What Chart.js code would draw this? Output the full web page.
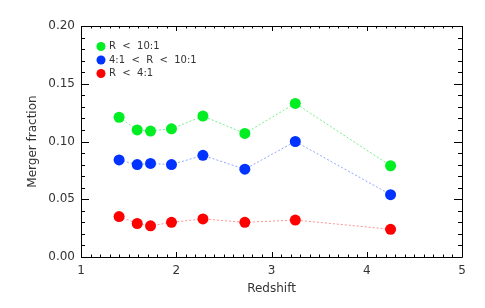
<!DOCTYPE html>
<html>
<head>
<meta charset="utf-8">
<script src="https://cdn.jsdelivr.net/npm/chart.js@4"></script>
<style>
  html, body { margin: 0; padding: 0; background: #fff; }
  #wrap { width: 485px; height: 308px; }
</style>
</head>
<body>
<div id="wrap"><canvas id="chart" width="485" height="308"></canvas></div>
<script>
// redshift bins
const redshift = [1.40, 1.59, 1.73, 1.95, 2.28, 2.72, 3.25, 4.25];
// merger fraction per mass ratio range
const majorMinor = [0.121, 0.110, 0.109, 0.111, 0.122, 0.107, 0.133, 0.079];
const minorOnly = [0.084, 0.080, 0.081, 0.080, 0.088, 0.076, 0.100, 0.054];
const majorOnly = [0.035, 0.029, 0.027, 0.030, 0.033, 0.030, 0.032, 0.024];
const seriesLabels = ['R  <  10:1', '4:1  <  R  <  10:1', 'R  <  4:1'];
const xTicks = [1, 2, 3, 4, 5];
const yTicks = [0, 0.05, 0.10, 0.15, 0.20];

const FONT = 'DejaVu Sans';
const TEXT = '#333';

function toPoints(values) {
    return values.map((v, i) => ({ x: redshift[i], y: v }));
}

// frame + inward ticks on all four sides, IDL style
const frameTicks = {
    id: 'frameTicks',
    afterDatasetsDraw(chart) {
        const ctx = chart.ctx;
        const a = chart.chartArea;
        const xs = chart.scales.x;
        const ys = chart.scales.y;
        ctx.save();
        ctx.strokeStyle = '#000';
        ctx.lineWidth = 1;
        ctx.beginPath();
        ctx.rect(Math.round(a.left) + 0.5, Math.round(a.top) + 0.5,
            Math.round(a.right - a.left), Math.round(a.bottom - a.top));
        ctx.stroke();

        ctx.beginPath();
        // x ticks: major every 1, minor every 0.1
        for (let i = 0; i <= 40; i++) {
            const v = xs.min + i * 0.1;
            const px = Math.round(xs.getPixelForValue(v)) + 0.5;
            const len = (i % 10 === 0) ? 5 : 2.5;
            ctx.moveTo(px, a.bottom);
            ctx.lineTo(px, a.bottom - len);
            ctx.moveTo(px, a.top);
            ctx.lineTo(px, a.top + len);
        }
        // y ticks: major every 0.05, minor every 0.01
        for (let i = 0; i <= 20; i++) {
            const v = i * 0.01;
            const py = Math.round(ys.getPixelForValue(v)) + 0.5;
            const len = (i % 5 === 0) ? 8 : 4;
            ctx.moveTo(a.left, py);
            ctx.lineTo(a.left + len, py);
            ctx.moveTo(a.right, py);
            ctx.lineTo(a.right - len, py);
        }
        ctx.stroke();
        ctx.restore();
    }
};

// legend drawn inside the plot, top left
const insideLegend = {
    id: 'insideLegend',
    afterDraw(chart) {
        const ctx = chart.ctx;
        const a = chart.chartArea;
        ctx.save();
        ctx.font = '10px ' + FONT;
        ctx.textBaseline = 'middle';
        chart.data.datasets.forEach((ds, i) => {
            const y = a.top + 20.5 + i * 13.5;
            ctx.fillStyle = ds.pointBackgroundColor;
            ctx.beginPath();
            ctx.arc(a.left + 20, y, 4.5, 0, Math.PI * 2);
            ctx.fill();
            ctx.fillStyle = TEXT;
            ctx.fillText(ds.label, a.left + 28, y);
        });
        ctx.restore();
    }
};

function makeSet(label, values, color, lineColor) {
    return {
        label: label,
        data: toPoints(values),
        borderColor: lineColor,
        borderWidth: 1,
        borderDash: [2, 2],
        pointBackgroundColor: color,
        pointBorderWidth: 0,
        pointRadius: 5.5,
        pointHoverRadius: 5.5,
        fill: false,
        tension: 0
    };
}

document.addEventListener('DOMContentLoaded', function () {
    new Chart(document.getElementById('chart'), {
        type: 'line',
        data: {
            datasets: [
                makeSet(seriesLabels[0], majorMinor, '#00ee22', 'rgba(0,230,40,0.55)'),
                makeSet(seriesLabels[1], minorOnly, '#0033ff', 'rgba(40,80,255,0.5)'),
                makeSet(seriesLabels[2], majorOnly, '#ff0000', 'rgba(255,40,40,0.5)')
            ]
        },
        options: {
            responsive: false,
            animation: false,
            layout: { padding: { left: 0, right: 23, top: 26, bottom: 0 } },
            plugins: {
                legend: { display: false },
                tooltip: { enabled: false }
            },
            scales: {
                x: {
                    type: 'linear',
                    min: 1,
                    max: 5,
                    afterFit: s => { s.height = 51; },
                    afterBuildTicks: s => { s.ticks = xTicks.map(v => ({ value: v })); },
                    grid: { display: false, drawTicks: false },
                    border: { display: false },
                    ticks: {
                        padding: 7,
                        color: TEXT,
                        font: { family: FONT, size: 12 },
                        callback: v => String(v)
                    },
                    title: {
                        display: true,
                        text: 'Redshift',
                        color: TEXT,
                        font: { family: FONT, size: 12 },
                        padding: { top: 0, bottom: 12 }
                    }
                },
                y: {
                    type: 'linear',
                    min: 0,
                    max: 0.2,
                    afterFit: s => { s.width = 81; },
                    afterBuildTicks: s => { s.ticks = yTicks.map(v => ({ value: v })); },
                    grid: { display: false, drawTicks: false },
                    border: { display: false },
                    ticks: {
                        padding: 6,
                        color: TEXT,
                        font: { family: FONT, size: 12 },
                        callback: v => Number(v).toFixed(2)
                    },
                    title: {
                        display: true,
                        text: 'Merger fraction',
                        color: TEXT,
                        font: { family: FONT, size: 12 },
                        padding: { top: 26, bottom: 0 }
                    }
                }
            }
        },
        plugins: [frameTicks, insideLegend]
    });
});
</script>
</body>
</html>
